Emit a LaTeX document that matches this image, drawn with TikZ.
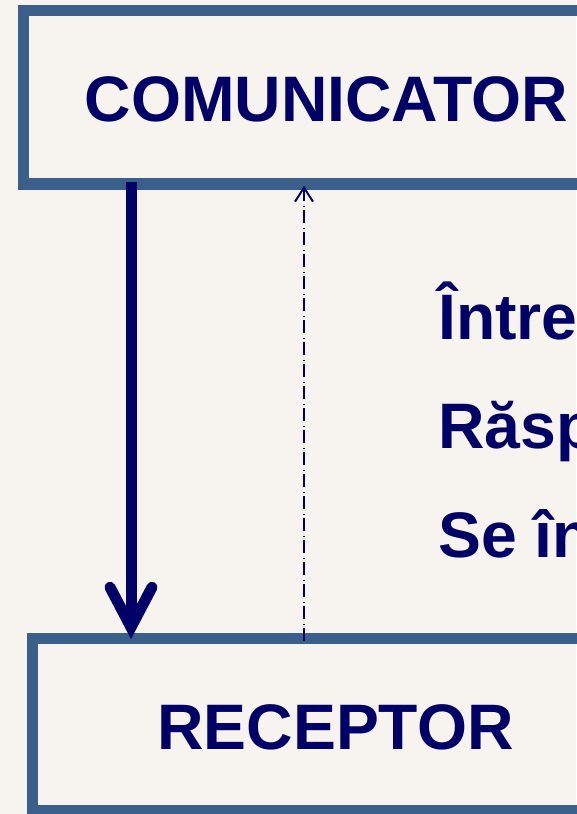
\documentclass[tikz,border=0pt]{standalone}
\usepackage{fontspec}
\setmainfont{Liberation Sans}
\usetikzlibrary{arrows.meta}
\definecolor{navy}{RGB}{0,0,102}
\definecolor{boxblue}{RGB}{58,95,138}
\definecolor{paper}{RGB}{247,244,239}
\tikzset{
  box/.style={draw=boxblue, line width=11.5pt, inner sep=0pt, minimum width=680pt},
  title/.style={text=navy, font=\fontsize{64.3}{70}\selectfont\bfseries, inner sep=0pt, anchor=base},
  item/.style={title, anchor=base west},
  sendarrow/.style={navy, line width=11pt, -{Straight Barb[length=40pt, width=42pt, line cap=round, line join=miter]}},
  backarrow/.style={navy, line width=2pt, dash pattern=on 13pt off 3pt on 1.5pt off 4.5pt, -{Straight Barb[length=14pt, width=18pt]}}
}

\begin{document}
\begin{tikzpicture}[x=1pt,y=-1pt]
  \fill[paper] (0,0) rectangle (576,814);
  \useasboundingbox (0,0) rectangle (576,814);

  \node[box, minimum height=173.7pt] (top) at (363.5,97.2) {};
  \node[box, minimum height=172.4pt] (bot) at (372.3,724.5) {};

  \node[title] (comm) at (326.5,121) {COMUNICATOR};
  \node[title] (rec) at (335.5,749) {RECEPTOR};

  \node[item] (l1) at (438,339) {Între};
  \node[item] (l2) at (438,448) {Răsp};
  \node[item] (l3) at (438,557) {Se în};

  \coordinate (s) at (131,0);
  \coordinate (d) at (304,0);
  \draw[sendarrow, shorten <=-8pt, shorten >=-6.5pt] (top.south -| s) -- (bot.north -| s);
  \draw[backarrow, shorten <=-8.5pt, shorten >=-4pt] (bot.north -| d) -- (top.south -| d);
\end{tikzpicture}
\end{document}
